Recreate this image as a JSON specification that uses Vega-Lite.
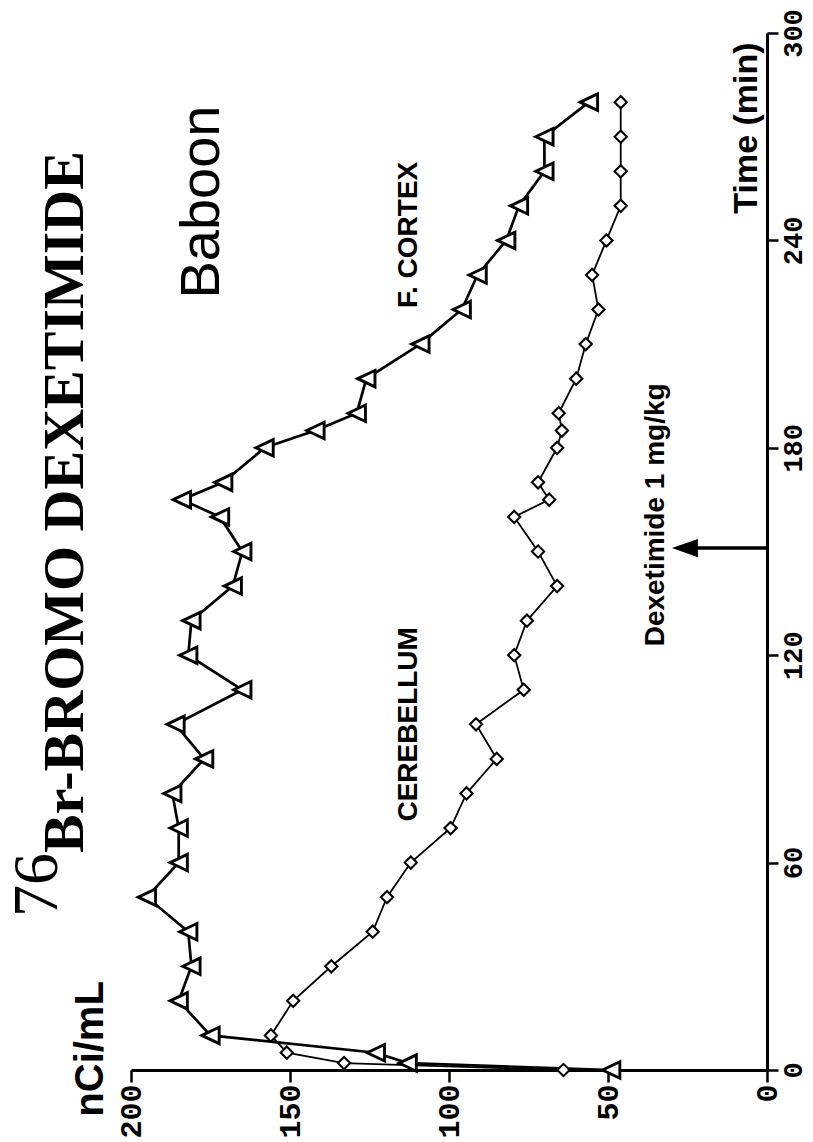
{
  "$schema": "https://vega.github.io/schema/vega-lite/v6.json",
  "width": 636,
  "height": 1037,
  "autosize": {"type": "none"},
  "padding": {"left": 131, "top": 33, "right": 46, "bottom": 72},
  "background": "white",
  "config": {"view": {"stroke": null}, "font": "Liberation Sans"},
  "datasets": {
    "note": [{"kind": "annotation"}],
    "uptake": [
      {"region": "F. CORTEX", "time": 0, "conc": 49},
      {"region": "F. CORTEX", "time": 2, "conc": 113},
      {"region": "F. CORTEX", "time": 5, "conc": 123},
      {"region": "F. CORTEX", "time": 10, "conc": 175},
      {"region": "F. CORTEX", "time": 20, "conc": 185},
      {"region": "F. CORTEX", "time": 30, "conc": 181},
      {"region": "F. CORTEX", "time": 40, "conc": 182},
      {"region": "F. CORTEX", "time": 50, "conc": 195},
      {"region": "F. CORTEX", "time": 60, "conc": 185},
      {"region": "F. CORTEX", "time": 70, "conc": 185},
      {"region": "F. CORTEX", "time": 80, "conc": 187},
      {"region": "F. CORTEX", "time": 90, "conc": 177},
      {"region": "F. CORTEX", "time": 100, "conc": 186},
      {"region": "F. CORTEX", "time": 110, "conc": 165},
      {"region": "F. CORTEX", "time": 120, "conc": 182},
      {"region": "F. CORTEX", "time": 130, "conc": 181},
      {"region": "F. CORTEX", "time": 140, "conc": 168},
      {"region": "F. CORTEX", "time": 150, "conc": 165},
      {"region": "F. CORTEX", "time": 160, "conc": 172},
      {"region": "F. CORTEX", "time": 165, "conc": 184},
      {"region": "F. CORTEX", "time": 170, "conc": 171},
      {"region": "F. CORTEX", "time": 180, "conc": 158},
      {"region": "F. CORTEX", "time": 185, "conc": 142},
      {"region": "F. CORTEX", "time": 190, "conc": 129},
      {"region": "F. CORTEX", "time": 200, "conc": 126},
      {"region": "F. CORTEX", "time": 210, "conc": 109},
      {"region": "F. CORTEX", "time": 220, "conc": 96},
      {"region": "F. CORTEX", "time": 230, "conc": 91},
      {"region": "F. CORTEX", "time": 240, "conc": 82},
      {"region": "F. CORTEX", "time": 250, "conc": 78},
      {"region": "F. CORTEX", "time": 260, "conc": 70},
      {"region": "F. CORTEX", "time": 270, "conc": 70},
      {"region": "F. CORTEX", "time": 280, "conc": 56},
      {"region": "CEREBELLUM", "time": 0, "conc": 64},
      {"region": "CEREBELLUM", "time": 2, "conc": 133},
      {"region": "CEREBELLUM", "time": 5, "conc": 151},
      {"region": "CEREBELLUM", "time": 10, "conc": 156},
      {"region": "CEREBELLUM", "time": 20, "conc": 149},
      {"region": "CEREBELLUM", "time": 30, "conc": 137},
      {"region": "CEREBELLUM", "time": 40, "conc": 124},
      {"region": "CEREBELLUM", "time": 50, "conc": 119.5},
      {"region": "CEREBELLUM", "time": 60, "conc": 112},
      {"region": "CEREBELLUM", "time": 70, "conc": 99.5},
      {"region": "CEREBELLUM", "time": 80, "conc": 94.5},
      {"region": "CEREBELLUM", "time": 90, "conc": 85},
      {"region": "CEREBELLUM", "time": 100, "conc": 91.5},
      {"region": "CEREBELLUM", "time": 110, "conc": 76.5},
      {"region": "CEREBELLUM", "time": 120, "conc": 79.5},
      {"region": "CEREBELLUM", "time": 130, "conc": 75.5},
      {"region": "CEREBELLUM", "time": 140, "conc": 66},
      {"region": "CEREBELLUM", "time": 150, "conc": 72},
      {"region": "CEREBELLUM", "time": 160, "conc": 79.5},
      {"region": "CEREBELLUM", "time": 165, "conc": 68.5},
      {"region": "CEREBELLUM", "time": 170, "conc": 72},
      {"region": "CEREBELLUM", "time": 180, "conc": 66},
      {"region": "CEREBELLUM", "time": 185, "conc": 64.5},
      {"region": "CEREBELLUM", "time": 190, "conc": 65.5},
      {"region": "CEREBELLUM", "time": 200, "conc": 60},
      {"region": "CEREBELLUM", "time": 210, "conc": 57},
      {"region": "CEREBELLUM", "time": 220, "conc": 53},
      {"region": "CEREBELLUM", "time": 230, "conc": 55},
      {"region": "CEREBELLUM", "time": 240, "conc": 50.5},
      {"region": "CEREBELLUM", "time": 250, "conc": 46},
      {"region": "CEREBELLUM", "time": 260, "conc": 46},
      {"region": "CEREBELLUM", "time": 270, "conc": 46},
      {"region": "CEREBELLUM", "time": 280, "conc": 46}
    ]
  },
  "layer": [
    {
      "data": {"name": "uptake"},
      "transform": [{"filter": "datum.region === 'F. CORTEX'"}],
      "mark": {"type": "line", "color": "black", "strokeWidth": 2.7},
      "encoding": {
        "x": {
          "field": "conc", "type": "quantitative",
          "scale": {"domain": [0, 200], "reverse": true, "nice": false},
          "axis": {
            "orient": "bottom", "values": [0, 50, 100, 150, 200], "title": null, "grid": false,
            "domainWidth": 3, "domainColor": "black", "tickColor": "black", "tickWidth": 2.5, "tickSize": 12,
            "labelAngle": -90, "labelAlign": "right", "labelBaseline": "middle",
            "labelFont": "Liberation Mono", "labelFontWeight": "bold", "labelFontSize": 30, "labelColor": "black",
            "labelPadding": 2, "labelFlush": false, "labelOverlap": false, "labelBound": false
          }
        },
        "y": {
          "field": "time", "type": "quantitative",
          "scale": {"domain": [0, 300], "nice": false},
          "axis": {
            "orient": "right", "values": [0, 60, 120, 180, 240, 300], "title": null, "grid": false,
            "domainWidth": 3, "domainColor": "black", "tickColor": "black", "tickWidth": 2.5, "tickSize": 11,
            "labelAngle": -90, "labelAlign": "center", "labelBaseline": "top",
            "labelFont": "Liberation Mono", "labelFontWeight": "bold", "labelFontSize": 27, "labelColor": "black",
            "labelPadding": 2, "labelFlush": false, "labelOverlap": false, "labelBound": false
          }
        },
        "order": {"field": "time", "type": "quantitative"}
      }
    },
    {
      "data": {"name": "uptake"},
      "transform": [{"filter": "datum.region === 'CEREBELLUM'"}],
      "mark": {"type": "line", "color": "black", "strokeWidth": 1.8},
      "encoding": {
        "x": {"field": "conc", "type": "quantitative"},
        "y": {"field": "time", "type": "quantitative"},
        "order": {"field": "time", "type": "quantitative"}
      }
    },
    {
      "data": {"name": "uptake"},
      "transform": [{"filter": "datum.region === 'F. CORTEX'"}],
      "mark": {"type": "point", "shape": "M -1 0 L 1 -0.95 L 1 0.95 Z", "size": 300, "filled": true, "fill": "white", "stroke": "black", "strokeWidth": 2.9, "opacity": 1},
      "encoding": {
        "x": {"field": "conc", "type": "quantitative"},
        "y": {"field": "time", "type": "quantitative"}
      }
    },
    {
      "data": {"name": "uptake"},
      "transform": [{"filter": "datum.region === 'CEREBELLUM'"}],
      "mark": {"type": "point", "shape": "diamond", "size": 150, "filled": true, "fill": "white", "stroke": "black", "strokeWidth": 2.1, "opacity": 1},
      "encoding": {
        "x": {"field": "conc", "type": "quantitative"},
        "y": {"field": "time", "type": "quantitative"}
      }
    },
    {
      "data": {"name": "note"},
      "mark": {"type": "rule", "color": "black", "strokeWidth": 3.5},
      "encoding": {
        "x": {"datum": 0, "type": "quantitative"},
        "x2": {"datum": 26},
        "y": {"datum": 151, "type": "quantitative"}
      }
    },
    {
      "data": {"name": "note"},
      "mark": {"type": "point", "shape": "M -1 0 L 1 -0.7 L 1 0.7 Z", "size": 676, "filled": true, "color": "black", "opacity": 1},
      "encoding": {
        "x": {"datum": 25.8, "type": "quantitative"},
        "y": {"datum": 151, "type": "quantitative"}
      }
    },
    {
      "data": {"name": "note"},
      "mark": {"type": "text", "text": "Dexetimide 1 mg/kg", "font": "Liberation Sans", "fontWeight": "bold", "fontSize": 28, "angle": 270, "align": "center", "baseline": "alphabetic", "color": "black"},
      "encoding": {
        "x": {"datum": 32.4, "type": "quantitative"},
        "y": {"datum": 160.6, "type": "quantitative"}
      }
    },
    {
      "data": {"name": "note"},
      "mark": {"type": "text", "text": "F. CORTEX", "font": "Liberation Sans", "fontWeight": "bold", "fontSize": 28, "angle": 270, "align": "center", "baseline": "alphabetic", "color": "black"},
      "encoding": {
        "x": {"datum": 110.1, "type": "quantitative"},
        "y": {"datum": 241.6, "type": "quantitative"}
      }
    },
    {
      "data": {"name": "note"},
      "mark": {"type": "text", "text": "CEREBELLUM", "font": "Liberation Sans", "fontWeight": "bold", "fontSize": 28, "angle": 270, "align": "center", "baseline": "alphabetic", "color": "black"},
      "encoding": {
        "x": {"datum": 110.1, "type": "quantitative"},
        "y": {"datum": 100, "type": "quantitative"}
      }
    },
    {
      "data": {"name": "note"},
      "mark": {"type": "text", "text": "Baboon", "font": "Liberation Sans", "fontSize": 56, "angle": 270, "align": "center", "baseline": "alphabetic", "color": "black"},
      "encoding": {
        "x": {"datum": 172.3, "type": "quantitative"},
        "y": {"datum": 251.1, "type": "quantitative"}
      }
    },
    {
      "data": {"name": "note"},
      "mark": {"type": "text", "text": "Time (min)", "font": "Liberation Sans", "fontWeight": "bold", "fontSize": 34, "angle": 270, "align": "center", "baseline": "alphabetic", "color": "black"},
      "encoding": {
        "x": {"datum": 3.1, "type": "quantitative"},
        "y": {"datum": 272.5, "type": "quantitative"}
      }
    },
    {
      "data": {"name": "note"},
      "mark": {"type": "text", "text": "nCi/mL", "font": "Liberation Sans", "fontWeight": "bold", "fontSize": 40, "angle": 270, "align": "center", "baseline": "alphabetic", "color": "black"},
      "encoding": {
        "x": {"datum": 208.8, "type": "quantitative"},
        "y": {"datum": 6.1, "type": "quantitative"}
      }
    },
    {
      "data": {"name": "note"},
      "mark": {"type": "text", "text": "Br-BROMO DEXETIMIDE", "font": "Liberation Serif", "fontWeight": "bold", "fontSize": 58, "angle": 270, "align": "center", "baseline": "alphabetic", "color": "black"},
      "encoding": {
        "x": {"datum": 215.1, "type": "quantitative"},
        "y": {"datum": 164.3, "type": "quantitative"}
      }
    },
    {
      "data": {"name": "note"},
      "mark": {"type": "text", "text": "76", "font": "Liberation Serif", "fontSize": 64, "angle": 270, "align": "center", "baseline": "alphabetic", "color": "black"},
      "encoding": {
        "x": {"datum": 223.3, "type": "quantitative"},
        "y": {"datum": 53.5, "type": "quantitative"}
      }
    }
  ]
}
